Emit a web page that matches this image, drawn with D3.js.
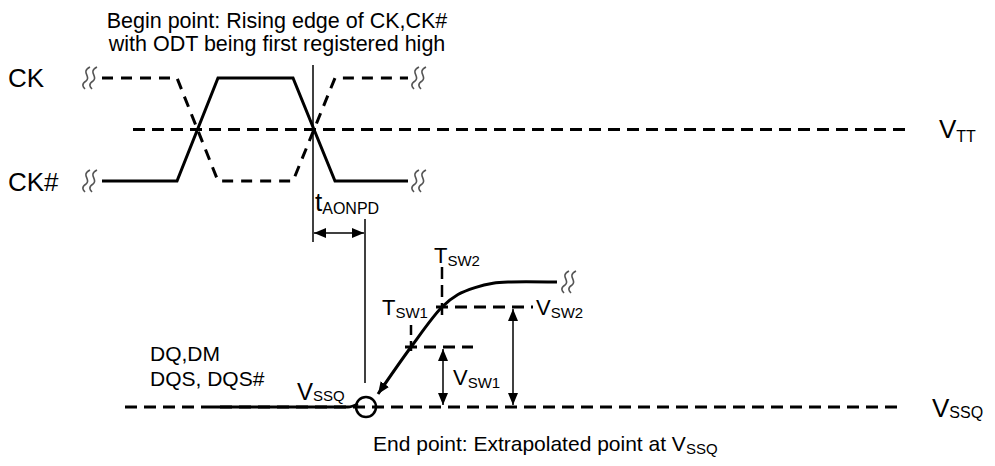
<!DOCTYPE html>
<html><head><meta charset="utf-8">
<script src="https://cdn.jsdelivr.net/npm/d3@7"></script>
<style>
html,body{margin:0;padding:0;background:#fff;}
text{font-family:"Liberation Sans",Arial,Helvetica,sans-serif;fill:#000;}
</style></head>
<body><svg id="c" width="995" height="466"></svg>
<script>
// ---- data (time in arbitrary units, voltage normalised 0=low, 1=high) ----
const ckTimes   = [0.4, 15.4, 23.6, 38.6, 47, 61.6];
const ckbLevels = [0, 0, 1, 1, 0, 0];          // CK# (solid)
const ckLevels  = [1, 1, 0, 0, 1, 1];          // CK (dashed)
const vttLevel  = 0.5;
const vttSpan   = [6.6, 162];
const tAonpd    = [42.6, 53];                  // begin / end point
const dqLowTimes  = [22.6, 49.6, 51.6];
const dqLowLevels = [0, 0, 0.024];
const dqRiseTimes  = [55.6, 62.2, 68.4, 71.6, 75, 78.6, 81.6, 91.4];
const dqRiseLevels = [0.104, 0.48, 0.8, 0.9, 0.955, 0.99, 1, 1];
const vssqSpan  = [5, 160];
const tsw   = [62.2, 68.4];                    // TSW1, TSW2
const vsw   = [0.48, 0.8];                     // VSW1, VSW2
const vswRefEnd = [74.6, 86.6];
const vswArrowT = [68.6, 82.6];
const endPointT = 53.2;

const svg = d3.select('#c');
const x   = d3.scaleLinear().domain([0, 100]).range([100, 600]);
const yCK = d3.scaleLinear().domain([0, 1]).range([181, 78]);
const yDQ = d3.scaleLinear().domain([0, 1]).range([407, 282]);

const defs = svg.append('defs');
defs.append('marker').attr('id','ah').attr('viewBox','0 0 12 10').attr('refX',12).attr('refY',5)
  .attr('markerWidth',12).attr('markerHeight',10).attr('markerUnits','userSpaceOnUse')
  .attr('orient','auto-start-reverse')
  .append('path').attr('d','M0,0 L12,5 L0,10 Z').attr('fill','#000');

const DASH = '12,7';
const lineCK = d3.line().x(d=>x(d[0])).y(d=>yCK(d[1]));

// VTT reference
svg.append('line').attr('x1',x(vttSpan[0])).attr('x2',x(vttSpan[1]))
  .attr('y1',yCK(vttLevel)).attr('y2',yCK(vttLevel))
  .attr('stroke','#000').attr('stroke-width',3).attr('stroke-dasharray',DASH);

// CK dashed
svg.append('path').attr('d', lineCK(ckTimes.map((t,i)=>[t,ckLevels[i]])))
  .attr('fill','none').attr('stroke','#000').attr('stroke-width',3).attr('stroke-dasharray','11,8');
// CK# solid
svg.append('path').attr('d', lineCK(ckTimes.map((t,i)=>[t,ckbLevels[i]])))
  .attr('fill','none').attr('stroke','#000').attr('stroke-width',3).attr('stroke-linejoin','miter');

// squiggles (break marks)
function squiggle(cx, cy){
  [-4, 3].forEach(o=>{
    const sx = cx + o;
    svg.append('path')
      .attr('d',`M${sx+4},${cy-11} C${sx-6},${cy-6} ${sx+6},${cy-1} ${sx},${cy+3} C${sx-5},${cy+6} ${sx-3},${cy+9} ${sx-1},${cy+11}`)
      .attr('fill','none').attr('stroke','#555').attr('stroke-width',1.6);
  });
}
squiggle(x(ckTimes[0]) - 12, yCK(1));
squiggle(x(ckTimes[0]) - 12, yCK(0));
squiggle(x(ckTimes[5]) + 11, yCK(1));
squiggle(x(ckTimes[5]) + 11, yCK(0));
squiggle(x(dqRiseTimes[7]) + 12, yDQ(1));

// tAONPD
svg.append('line').attr('x1',x(tAonpd[0])).attr('x2',x(tAonpd[0])).attr('y1',65).attr('y2',242)
  .attr('stroke','#000').attr('stroke-width',1.5);
svg.append('line').attr('x1',x(tAonpd[1])).attr('x2',x(tAonpd[1])).attr('y1',219).attr('y2',yDQ(0)-24)
  .attr('stroke','#000').attr('stroke-width',1.5);
svg.append('line').attr('x1',x(tAonpd[0])+1).attr('x2',x(tAonpd[1])-1).attr('y1',233).attr('y2',233)
  .attr('stroke','#000').attr('stroke-width',1.5)
  .attr('marker-start','url(#ah)').attr('marker-end','url(#ah)');

// VSSQ reference
svg.append('line').attr('x1',x(vssqSpan[0])).attr('x2',x(vssqSpan[1]))
  .attr('y1',yDQ(0)).attr('y2',yDQ(0))
  .attr('stroke','#000').attr('stroke-width',3).attr('stroke-dasharray',DASH);

// DQ low level
const lineDQ = d3.line().x(d=>x(d[0])).y(d=>yDQ(d[1])).curve(d3.curveMonotoneX);
svg.append('path').attr('d', lineDQ(dqLowTimes.map((t,i)=>[t,dqLowLevels[i]])))
  .attr('fill','none').attr('stroke','#000').attr('stroke-width',3);
// DQ rising edge with extrapolation arrow
const lineRise = d3.line().x(d=>x(d[0])).y(d=>yDQ(d[1])).curve(d3.curveCatmullRom.alpha(0.5));
svg.append('path').attr('d', lineRise(dqRiseTimes.map((t,i)=>[t,dqRiseLevels[i]])))
  .attr('fill','none').attr('stroke','#000').attr('stroke-width',3)
  .attr('marker-start','url(#ah)');

// end point circle
svg.append('circle').attr('cx',x(endPointT)).attr('cy',yDQ(0)).attr('r',10)
  .attr('fill','none').attr('stroke','#000').attr('stroke-width',2.5);

// TSW markers and VSW reference dashes
tsw.forEach((t,i)=>{
  svg.append('line').attr('x1',x(t)).attr('x2',x(t))
    .attr('y1',yDQ(vsw[i]) - (i===0?22:40)).attr('y2',yDQ(vsw[i])+8)
    .attr('stroke','#000').attr('stroke-width',2.5).attr('stroke-dasharray', i===0?'10,6':'12,6');
  svg.append('line').attr('x1',x(t)-6).attr('x2',x(vswRefEnd[i]))
    .attr('y1',yDQ(vsw[i])).attr('y2',yDQ(vsw[i]))
    .attr('stroke','#000').attr('stroke-width',3).attr('stroke-dasharray','12,7');
  svg.append('line').attr('x1',x(vswArrowT[i])).attr('x2',x(vswArrowT[i]))
    .attr('y1',yDQ(vsw[i])+2).attr('y2',yDQ(0)-2)
    .attr('stroke','#000').attr('stroke-width',1.5)
    .attr('marker-start','url(#ah)').attr('marker-end','url(#ah)');
});

// ---- text ----
function label(px, py, main, sub, size, subSize, anchor, dy){
  const t = svg.append('text').attr('x',px).attr('y',py).attr('font-size',size)
    .attr('text-anchor',anchor||'start');
  t.append('tspan').text(main);
  if(sub){ t.append('tspan').attr('font-size',subSize).attr('dy',dy==null?3:dy).text(sub); }
  return t;
}
label(277, 28, 'Begin point: Rising edge of CK,CK#', null, 21.5, 0, 'middle');
label(277, 51, 'with ODT being first registered high', null, 21.5, 0, 'middle');
label(8, 87, 'CK', null, 26);
label(8, 191, 'CK#', null, 26);
label(939, 138, 'V', 'TT', 26, 16, null, 4);
label(315, 211, 't', 'AONPD', 26, 16, null, 3);
label(382, 315, 'T', 'SW1', 22, 15);
label(434, 263, 'T', 'SW2', 22, 15);
label(536, 315, 'V', 'SW2', 22, 15);
label(453, 385, 'V', 'SW1', 22, 15);
label(150, 361, 'DQ,DM', null, 21);
label(150, 386, 'DQS, DQS#', null, 21);
label(297, 400, 'V', 'SSQ', 24, 15, null, 1);
label(932, 417, 'V', 'SSQ', 26, 16, null, 1);
label(373, 451, 'End point: Extrapolated point at V', 'SSQ', 21, 15, null, 3);
</script></body></html>
